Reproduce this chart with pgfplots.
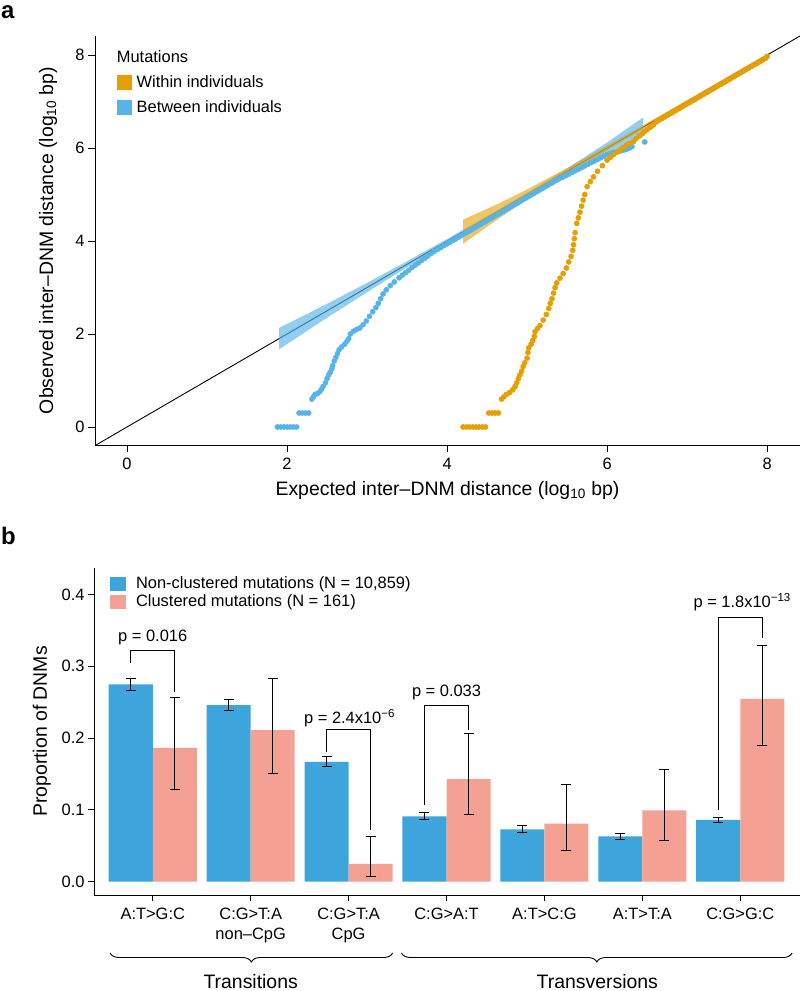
\documentclass[border=0pt]{standalone}
\usepackage{pgfplots}
\usepackage{pgfplotstable}
\pgfplotsset{compat=1.18}
\usepackage{fontspec}
\setmainfont{Liberation Sans}
\usetikzlibrary{decorations.pathreplacing}
\definecolor{ora}{HTML}{E69F00}
\definecolor{sky}{HTML}{56B4E9}
\definecolor{barblue}{HTML}{3DA5DC}
\definecolor{barpink}{HTML}{F4A093}
\newcommand{\tickfont}{\fontsize{16.5}{20}\selectfont}
\newcommand{\labfont}{\fontsize{19.5}{22}\selectfont}

\pgfplotstableread{
x y ep em
-0.225 0.275 0.008 0.009
0.775 0.246 0.008 0.008
1.775 0.167 0.007 0.006
2.775 0.091 0.005 0.004
3.775 0.073 0.005 0.004
4.775 0.063 0.004 0.004
5.775 0.086 0.004 0.004
}\bluebars

\pgfplotstableread{
x y ep em
0.225 0.1863 0.0697 0.0573
1.225 0.2112 0.0718 0.0602
2.225 0.0248 0.0382 0.0178
3.225 0.1429 0.0641 0.0499
4.225 0.0807 0.0543 0.0367
5.225 0.0994 0.0576 0.0414
6.225 0.2547 0.0743 0.0647
}\pinkbars

\begin{document}
\begin{tikzpicture}
\useasboundingbox (0bp,0bp) rectangle (800bp,991bp);
\node[anchor=base west, inner sep=0pt, font=\fontsize{24}{24}\selectfont\bfseries] at (1bp,972bp) {a};
\node[anchor=base west, inner sep=0pt, font=\fontsize{24}{24}\selectfont\bfseries] at (1bp,446bp) {b};

% ---------------- panel a ----------------
\begin{axis}[
  at={(95bp,546bp)}, anchor=south west, scale only axis,
  width=705bp, height=409bp,
  xmin=-0.4, xmax=8.41, ymin=-0.387, ymax=8.41,
  axis x line*=bottom, axis y line*=left,
  axis line style={-, line width=0.9bp},
  tick style={black, line width=0.9bp},
  tick align=outside, major tick length=7bp,
  xtick={0,2,4,6,8}, ytick={0,2,4,6,8},
  /pgf/number format/assume math mode=true,
  ticklabel style={font=\tickfont},
  xticklabel style={yshift=-3bp},
  xlabel={Expected inter–DNM distance (log\textsubscript{10} bp)},
  ylabel={Observed inter–DNM distance (log\textsubscript{10} bp)},
  every axis x label/.style={at={(axis description cs:0.5,-0.110)}, anchor=center, font=\labfont},
  every axis y label/.style={at={(axis description cs:-0.0667,0.5)}, rotate=90, anchor=center, font=\labfont},
  legend image code/.code={\fill[#1] (0bp,-7.5bp) rectangle (15bp,7.5bp); \path (20bp,0bp);},
  legend cell align=left,
  legend style={at={(axis cs:-0.129,7.57)}, anchor=north west, draw=none, fill=none, inner sep=0pt, outer sep=0pt, row sep=10bp, font=\tickfont, nodes={inner sep=0pt}},
]
\addlegendimage{fill=ora, draw=none}
\addlegendentry{Within individuals}
\addlegendimage{fill=sky, draw=none}
\addlegendentry{Between individuals}

% between individuals points
\addplot[forget plot, only marks, color=sky, mark=*, mark size=2.6bp, mark options={fill=sky, draw=sky}] coordinates {
(1.88,0)(1.92,0)(1.96,0)(2.00,0)(2.04,0)(2.08,0)(2.12,0)
(2.15,0.301)(2.19,0.301)(2.23,0.301)(2.27,0.301)
(2.31,0.60)(2.33,0.65)(2.35,0.70)(2.38,0.72)(2.41,0.76)(2.43,0.81)(2.45,0.87)(2.48,0.95)(2.50,1.04)(2.52,1.12)
(2.54,1.18)(2.56,1.25)(2.57,1.32)(2.59,1.42)(2.61,1.50)(2.63,1.58)(2.65,1.66)(2.68,1.72)(2.72,1.78)(2.75,1.85)
(2.77,1.90)(2.79,2.00)(2.83,2.06)(2.87,2.10)(2.91,2.13)(2.95,2.20)(2.99,2.28)(3.03,2.38)(3.07,2.48)(3.11,2.57)
(3.14,2.66)(3.17,2.76)(3.20,2.86)(3.24,2.95)(3.29,3.04)(3.34,3.12)
(3.40,3.21)(3.44,3.265)(3.48,3.32)(3.52,3.37)(3.56,3.43)(3.60,3.48)(3.64,3.53)(3.68,3.58)(3.72,3.63)(3.76,3.68)
(3.80,3.73)(3.84,3.78)(3.88,3.82)(3.92,3.86)(3.96,3.90)
(4.000,3.940)(4.035,3.975)(4.070,4.010)(4.105,4.045)(4.140,4.080)(4.175,4.115)(4.210,4.150)(4.245,4.185)
(4.280,4.220)(4.315,4.255)(4.350,4.290)(4.385,4.325)(4.420,4.360)(4.455,4.395)(4.490,4.430)(4.525,4.465)
(4.560,4.500)(4.595,4.535)(4.630,4.570)(4.665,4.605)(4.700,4.640)(4.735,4.675)(4.770,4.710)(4.805,4.745)
(4.840,4.780)(4.875,4.815)(4.910,4.850)(4.945,4.885)(4.980,4.920)(5.015,4.955)(5.050,4.990)(5.085,5.025)
(5.120,5.060)(5.155,5.095)(5.190,5.130)(5.225,5.165)(5.260,5.200)(5.295,5.235)(5.330,5.270)(5.365,5.305)
(5.400,5.340)(5.44,5.37)(5.48,5.405)(5.52,5.44)(5.56,5.475)(5.60,5.51)(5.64,5.545)(5.68,5.58)(5.72,5.615)
(5.76,5.65)(5.80,5.685)(5.84,5.72)(5.88,5.755)(5.92,5.79)(5.96,5.825)(6.00,5.86)(6.04,5.885)(6.08,5.905)
(6.12,5.92)(6.16,5.935)(6.20,5.95)(6.24,5.97)(6.28,6.00)(6.31,6.03)(6.47,6.13)
};
% within individuals points
\addplot[forget plot, only marks, color=ora, mark=*, mark size=2.6bp, mark options={fill=ora, draw=ora}] coordinates {
(4.20,0)(4.24,0)(4.28,0)(4.32,0)(4.36,0)(4.40,0)(4.44,0)(4.48,0)
(4.52,0.301)(4.56,0.301)(4.60,0.301)(4.64,0.301)
(4.68,0.60)(4.71,0.65)(4.74,0.70)(4.78,0.74)(4.82,0.80)(4.85,0.87)(4.87,0.95)(4.89,1.04)(4.91,1.12)(4.93,1.20)
(4.95,1.30)(4.97,1.38)(5.00,1.48)(5.01,1.60)(5.02,1.70)(5.05,1.78)(5.07,1.86)(5.09,1.95)(5.10,2.05)(5.13,2.12)
(5.16,2.18)(5.20,2.30)(5.24,2.42)(5.27,2.55)(5.29,2.66)(5.31,2.76)(5.33,2.88)(5.35,3.00)(5.37,3.10)(5.41,3.20)
(5.45,3.30)(5.49,3.42)(5.52,3.55)(5.55,3.67)(5.57,3.80)(5.58,3.92)(5.59,4.05)(5.60,4.18)(5.62,4.38)(5.64,4.50)
(5.66,4.62)(5.68,4.75)(5.70,4.88)(5.72,5.00)(5.75,5.17)(5.79,5.28)(5.83,5.38)(5.88,5.50)(5.94,5.62)(6.00,5.74)
(6.04,5.80)(6.08,5.86)(6.12,5.91)(6.16,5.96)(6.20,6.01)(6.24,6.06)(6.28,6.10)(6.33,6.14)(6.36,6.20)(6.40,6.26)
(6.44,6.31)(6.47,6.36)(6.50,6.40)(6.53,6.44)(6.55,6.46)
(6.58,6.50)(6.615,6.565)(6.65,6.60)(6.685,6.635)(6.72,6.67)(6.755,6.705)(6.79,6.74)(6.825,6.775)(6.86,6.81)
(6.895,6.845)(6.93,6.88)(6.965,6.915)(7.00,6.95)(7.035,6.985)(7.07,7.02)(7.105,7.055)(7.14,7.09)(7.175,7.125)
(7.21,7.16)(7.245,7.195)(7.28,7.23)(7.315,7.265)(7.35,7.30)(7.385,7.335)(7.42,7.37)(7.455,7.405)(7.49,7.44)
(7.525,7.475)(7.56,7.51)(7.595,7.545)(7.63,7.58)(7.665,7.615)(7.70,7.65)(7.735,7.685)(7.77,7.72)(7.805,7.755)
(7.84,7.79)(7.875,7.825)(7.91,7.86)(7.945,7.895)(7.98,7.93)(8.00,7.97)
};
% identity line
\addplot[forget plot, black, line width=0.9bp] coordinates {(-0.4,-0.4) (8.41,8.41)};
% confidence ribbons
\addplot[forget plot, fill=sky, draw=none, fill opacity=0.65] coordinates {
(1.9,2.13)(2.2,2.39)(2.5,2.65)(3.0,3.10)(3.5,3.565)(4.0,4.045)(4.5,4.535)(5.0,5.035)(5.5,5.56)(6.0,6.12)(6.45,6.66)
(6.45,6.24)(6.0,5.88)(5.5,5.44)(5.0,4.965)(4.5,4.465)(4.0,3.955)(3.5,3.435)(3.0,2.90)(2.5,2.35)(2.2,2.01)(1.9,1.67)
};
\addplot[forget plot, fill=ora, draw=none, fill opacity=0.6] coordinates {
(4.2,4.46)(4.6,4.77)(5.0,5.11)(5.5,5.57)(6.0,6.05)(6.5,6.54)(7.0,7.035)(7.5,7.53)(8.0,8.03)
(8.0,7.97)(7.5,7.47)(7.0,6.965)(6.5,6.46)(6.0,5.95)(5.5,5.43)(5.0,4.89)(4.6,4.43)(4.2,3.94)
};
\node[anchor=base west, inner sep=0pt, font=\tickfont] at (axis cs:-0.129,7.834) {Mutations};
\end{axis}

% ---------------- panel b ----------------
\begin{axis}[
  at={(94bp,96bp)}, anchor=south west, scale only axis,
  width=706bp, height=327bp,
  xmin=-0.6, xmax=6.61, ymin=-0.0186, ymax=0.437,
  axis x line*=bottom, axis y line*=left,
  axis line style={-, line width=0.9bp},
  tick style={black, line width=0.9bp},
  tick align=outside, major tick length=6bp,
  xtick={0,1,2,3,4,5,6},
  xticklabels={A:T>G:C, {C:G>T:A\\non–CpG}, {C:G>T:A\\CpG}, C:G>A:T, A:T>C:G, A:T>T:A, C:G>G:C},
  ytick={0,0.1,0.2,0.3,0.4}, yticklabels={0.0,0.1,0.2,0.3,0.4},
  xticklabel style={align=center, font=\tickfont, yshift=-4bp},
  yticklabel style={font=\tickfont},
  ylabel={Proportion of DNMs},
  every axis y label/.style={at={(axis description cs:-0.0737,0.5)}, rotate=90, anchor=center, font=\labfont},
  clip=false,
  legend image code/.code={\fill[#1] (0bp,-7bp) rectangle (16bp,7bp); \path (26bp,0bp);},
  legend cell align=left,
  legend style={at={(axis cs:-0.436,0.4250)}, anchor=north west, draw=none, fill=none, inner sep=0pt, outer sep=0pt, row sep=4bp, font=\tickfont, nodes={inner sep=0pt}},
]
\addlegendimage{fill=barblue, draw=none}
\addlegendentry{Non-clustered mutations (N = 10,859)}
\addlegendimage{fill=barpink, draw=none}
\addlegendentry{Clustered mutations (N = 161)}

\addplot[forget plot, ybar, bar width=0.45, bar shift=0pt, fill=barblue, draw=none,
  error bars/.cd, y dir=both, y explicit,
  error bar style={black, line width=0.9bp},
  error mark options={black, line width=0.9bp, mark size=5bp, rotate=90}]
  table[x=x, y=y, y error plus=ep, y error minus=em] {\bluebars};
\addplot[forget plot, ybar, bar width=0.45, bar shift=0pt, fill=barpink, draw=none,
  error bars/.cd, y dir=both, y explicit,
  error bar style={black, line width=0.9bp},
  error mark options={black, line width=0.9bp, mark size=5bp, rotate=90}]
  table[x=x, y=y, y error plus=ep, y error minus=em] {\pinkbars};

% significance brackets
\addplot[forget plot, black, line width=0.9bp] coordinates {(-0.225,0.3046) (-0.225,0.322) (0.225,0.322) (0.225,0.264)};
\addplot[forget plot, black, line width=0.9bp] coordinates {(1.775,0.181) (1.775,0.2125) (2.225,0.2125) (2.225,0.072)};
\addplot[forget plot, black, line width=0.9bp] coordinates {(2.775,0.107) (2.775,0.245) (3.225,0.245) (3.225,0.2116)};
\addplot[forget plot, black, line width=0.9bp] coordinates {(5.775,0.100) (5.775,0.368) (6.225,0.368) (6.225,0.339)};
\node[font=\tickfont] at (axis cs:0,0.340) {p = 0.016};
\node[font=\tickfont] at (axis cs:2.01,0.228) {p = 2.4x10\textsuperscript{−6}};
\node[font=\tickfont] at (axis cs:3.0,0.264) {p = 0.033};
\node[font=\tickfont] at (axis cs:6.02,0.389) {p = 1.8x10\textsuperscript{−13}};

% group braces
\draw[decorate, decoration={brace, mirror, amplitude=9bp}, line width=0.9bp] (axis cs:-0.436,-0.0994) -- (axis cs:2.45,-0.0994);
\draw[decorate, decoration={brace, mirror, amplitude=9bp}, line width=0.9bp] (axis cs:2.54,-0.0994) -- (axis cs:6.53,-0.0994);
\node[font=\labfont, anchor=base, inner sep=0pt] at (axis cs:1.0,-0.1485) {Transitions};
\node[font=\labfont, anchor=base, inner sep=0pt] at (axis cs:4.54,-0.1485) {Transversions};
\end{axis}
\end{tikzpicture}
\end{document}
